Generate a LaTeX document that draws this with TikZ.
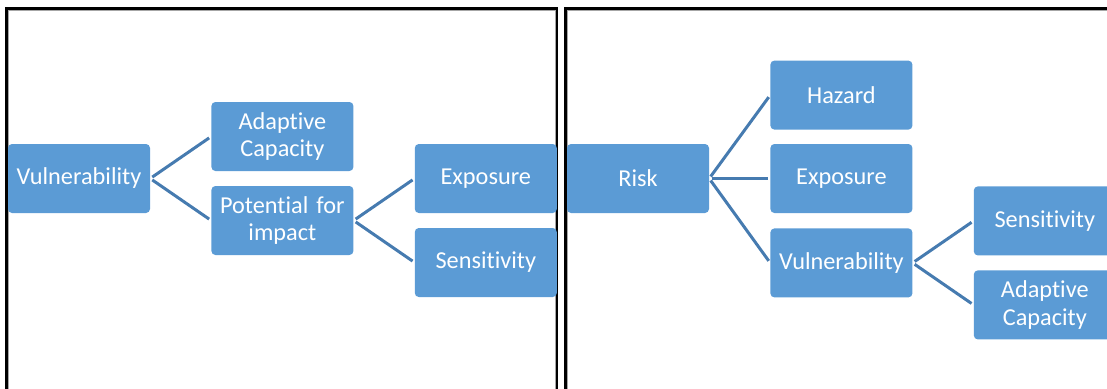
\documentclass[tikz,border=0pt]{standalone}
\usepackage{fontspec}
\setmainfont{Carlito}[Ligatures=NoCommon]
\usepackage{tikz}
\usetikzlibrary{positioning}
\definecolor{boxblue}{HTML}{5B9BD5}
\definecolor{lineblue}{HTML}{467BB0}
\tikzset{box/.style={rectangle, rounded corners=4pt, fill=boxblue, text=white, minimum width=142pt, minimum height=69pt, text width=138pt, align=center, inner sep=0pt, font=\fontsize{24.3}{27.5}\selectfont}}
\tikzset{link/.style={lineblue, line width=3pt, shorten <=2.5pt, shorten >=2.5pt}}
\tikzset{frame/.style={line width=2.5pt}}
\tikzset{inframe/.style={gray!70, line width=1pt}}

\begin{document}
\begin{tikzpicture}[x=1pt, y=-1pt, node distance=15pt and 61pt]
\useasboundingbox (0,0) rectangle (1107,388);
\clip (0,0) rectangle (1107,388);
\draw[inframe] (8.5,10.5) rectangle (555,420);
\draw[inframe] (567.5,10.5) rectangle (1130,420);
\draw[frame] (6.5,8.5) rectangle (557,420);
\draw[frame] (565.5,8.5) rectangle (1130,420);

\node[box] (vul) at (79,178.5) {Vulnerability};
\node[box, right=of vul, yshift=42pt] (ada) {Adaptive\\Capacity};
\node[box, right=of vul, yshift=-42pt] (pot) {Potential for\\impact};
\node[box, right=of pot, yshift=42pt] (exp) {Exposure};
\node[box, right=of pot, yshift=-42pt] (sen) {Sensitivity};

\node[box] (risk) at (638,178.5) {Risk};
\node[box, right=of risk] (rexp) {Exposure};
\node[box, above=14pt of rexp] (haz) {Hazard};
\node[box, below=of rexp] (rvul) {Vulnerability};
\node[box, right=of rvul, yshift=42pt] (rsen) {Sensitivity};
\node[box, right=of rvul, yshift=-42pt] (rada) {Adaptive\\Capacity};

\draw[link] (vul.east) -- (ada.west);
\draw[link] (vul.east) -- (pot.west);
\draw[link] (pot.east) -- (exp.west);
\draw[link] (pot.east) -- (sen.west);
\draw[link] (risk.east) -- (haz.west);
\draw[link] (risk.east) -- (rexp.west);
\draw[link] (risk.east) -- (rvul.west);
\draw[link] (rvul.east) -- (rsen.west);
\draw[link] (rvul.east) -- (rada.west);
\end{tikzpicture}
\end{document}
